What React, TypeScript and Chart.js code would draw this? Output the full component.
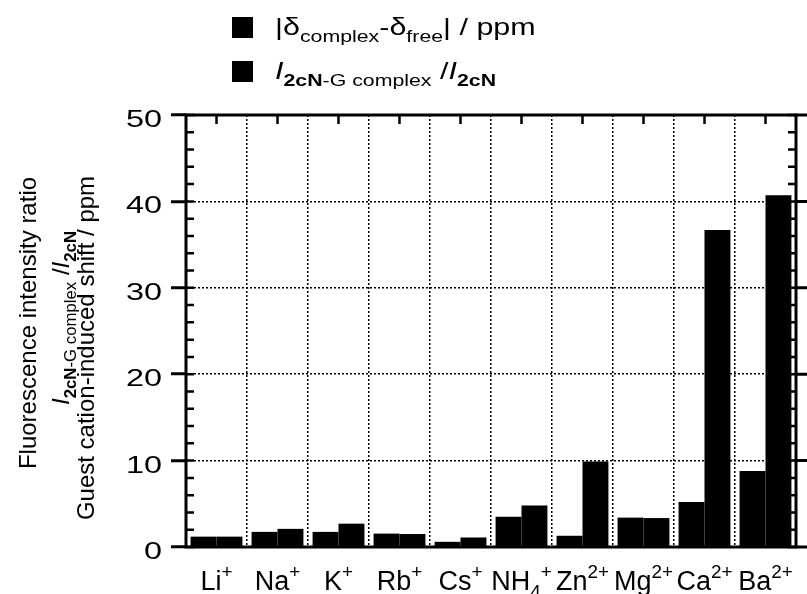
import React, { useEffect, useRef } from 'react';
import { Chart, registerables } from 'chart.js';

Chart.register(...registerables);

// ---------- data ----------
const categories = ['Li⁺', 'Na⁺', 'K⁺', 'Rb⁺', 'Cs⁺', 'NH₄⁺', 'Zn²⁺', 'Mg²⁺', 'Ca²⁺', 'Ba²⁺'];
const shiftValues = [1.2, 1.75, 1.75, 1.55, 0.6, 3.5, 1.3, 3.4, 5.2, 8.8];
const ratioValues = [1.2, 2.1, 2.7, 1.5, 1.1, 4.8, 9.9, 3.35, 36.7, 40.7];
const seriesLabels = ['|δcomplex-δfree| / ppm', 'I2cN-G complex /I2cN'];
const yTickLabels = ['0', '10', '20', '30', '40', '50'];
const yMin = 0;
const yMax = 50;
const yMajorStep = 10;
const yMinorStep = 2;

type Seg = { t: string; s?: 'sub' | 'sup'; f?: 'i' | 'b' };

const legendRich: Seg[][] = [
  [{ t: '|δ' }, { t: 'complex', s: 'sub' }, { t: '-δ' }, { t: 'free', s: 'sub' }, { t: '| / ppm' }],
  [
    { t: 'I', f: 'i' },
    { t: '2cN', s: 'sub', f: 'b' },
    { t: '-G complex', s: 'sub' },
    { t: ' /' },
    { t: 'I', f: 'i' },
    { t: '2cN', s: 'sub', f: 'b' },
  ],
];

const yTitleRich: Seg[][] = [
  [{ t: 'Fluorescence intensity ratio' }],
  [
    { t: 'I', f: 'i' },
    { t: '2cN', s: 'sub', f: 'b' },
    { t: '-G complex', s: 'sub' },
    { t: ' /' },
    { t: 'I', f: 'i' },
    { t: '2cN', s: 'sub', f: 'b' },
  ],
  [{ t: 'Guest cation-induced shift / ppm' }],
];

const FONT = '"Liberation Sans", Arial, Helvetica, sans-serif';
const STRETCH = 1.27;

function parseLabel(label: string): Seg[] {
  const out: Seg[] = [];
  const supMap: Record<string, string> = { '⁺': '+', '²': '2' };
  const subMap: Record<string, string> = { '₄': '4' };
  for (const ch of label) {
    const kind: 'sub' | 'sup' | undefined = supMap[ch] ? 'sup' : subMap[ch] ? 'sub' : undefined;
    const t = supMap[ch] || subMap[ch] || ch;
    const last = out[out.length - 1];
    if (last && last.s === kind) last.t += t;
    else out.push(kind ? { t, s: kind } : { t });
  }
  return out;
}

function fontFor(seg: Seg, size: number) {
  const sz = seg.s ? size * 0.7 : size;
  return `${seg.f === 'i' ? 'italic ' : ''}${seg.f === 'b' ? 'bold ' : ''}${sz}px ${FONT}`;
}

function measureRich(ctx: CanvasRenderingContext2D, segs: Seg[], size: number) {
  let w = 0;
  for (const s of segs) {
    ctx.font = fontFor(s, size);
    w += ctx.measureText(s.t).width;
  }
  return w;
}

function drawRich(
  ctx: CanvasRenderingContext2D,
  segs: Seg[],
  x: number,
  y: number,
  size: number,
  align: 'left' | 'center' | 'right',
  sx = 1,
  supRaise = 0.38
) {
  const w = measureRich(ctx, segs, size) * sx;
  const x0 = align === 'center' ? x - w / 2 : align === 'right' ? x - w : x;
  ctx.save();
  ctx.translate(x0, y);
  ctx.scale(sx, 1);
  ctx.textAlign = 'left';
  ctx.textBaseline = 'alphabetic';
  let cx = 0;
  for (const s of segs) {
    ctx.font = fontFor(s, size);
    const dy = s.s === 'sub' ? size * 0.3 : s.s === 'sup' ? -size * supRaise : 0;
    ctx.fillText(s.t, cx, dy);
    cx += ctx.measureText(s.t).width;
  }
  ctx.restore();
}

const decorPlugin = {
  id: 'decor',
  afterDatasetsDraw(chart: any) {
    const { ctx, chartArea } = chart;
    const { left, right, top, bottom } = chartArea;
    const x = chart.scales.x;
    const y = chart.scales.y;
    ctx.save();
    ctx.strokeStyle = '#000';
    ctx.lineWidth = 3;
    ctx.strokeRect(left, top, right - left, bottom - top);
    ctx.lineWidth = 2.5;
    ctx.beginPath();
    for (let v = yMin; v <= yMax; v += yMinorStep) {
      const py = y.getPixelForValue(v);
      ctx.moveTo(left, py);
      ctx.lineTo(left + 8, py);
      ctx.moveTo(right, py);
      ctx.lineTo(right - 8, py);
    }
    ctx.stroke();
    ctx.lineWidth = 3;
    ctx.beginPath();
    for (let v = yMin; v <= yMax; v += yMajorStep) {
      const py = y.getPixelForValue(v);
      ctx.moveTo(right, py);
      ctx.lineTo(right + 12, py);
    }
    ctx.stroke();
    ctx.lineWidth = 2.5;
    ctx.beginPath();
    categories.forEach((_, i) => {
      const px = x.getPixelForValue(i);
      ctx.moveTo(px, top);
      ctx.lineTo(px, top + 9);
    });
    ctx.stroke();
    ctx.restore();
  },
  afterDraw(chart: any) {
    const { ctx } = chart;
    const x = chart.scales.x;
    const y = chart.scales.y;
    ctx.save();
    ctx.fillStyle = '#000';
    // y tick labels
    yTickLabels.forEach((lab) => {
      const py = y.getPixelForValue(Number(lab));
      drawRich(ctx, [{ t: lab }], 162, py + 12, 24, 'right', 1.35);
    });
    // x labels
    categories.forEach((c, i) => {
      drawRich(ctx, parseLabel(c), x.getPixelForValue(i), 590, 27, 'center', 1, 0.45);
    });
    // legend
    const legendY = [17, 61];
    legendRich.forEach((segs, i) => {
      ctx.fillStyle = '#000';
      ctx.fillRect(232, legendY[i], 21, 21);
      drawRich(ctx, segs, 275, legendY[i] + 18, 24, 'left', STRETCH);
    });
    // y title
    const baseX = [36, 69, 94];
    const centerY = [323, 318, 348];
    yTitleRich.forEach((segs, i) => {
      ctx.save();
      ctx.translate(baseX[i], centerY[i]);
      ctx.rotate(-Math.PI / 2);
      drawRich(ctx, segs, 0, 0, 24, 'center');
      ctx.restore();
    });
    ctx.restore();
  },
};

export default function App() {
  const ref = useRef<HTMLCanvasElement | null>(null);
  useEffect(() => {
    if (!ref.current) return;
    const chart = new Chart(ref.current, {
      type: 'bar',
      data: {
        labels: categories,
        datasets: [
          {
            label: seriesLabels[0],
            data: shiftValues,
            backgroundColor: '#000',
            borderWidth: 0,
            categoryPercentage: 0.85,
            barPercentage: 1.0,
          },
          {
            label: seriesLabels[1],
            data: ratioValues,
            backgroundColor: '#000',
            borderWidth: 0,
            categoryPercentage: 0.85,
            barPercentage: 1.0,
          },
        ],
      },
      options: {
        responsive: false,
        animation: false,
        layout: { padding: { left: 0, right: 11, top: 115, bottom: 47 } },
        plugins: { legend: { display: false }, tooltip: { enabled: false } },
        scales: {
          x: {
            offset: true,
            grid: { offset: true, color: '#000', lineWidth: 1.5, drawTicks: false },
            border: { display: false, dash: [2, 2] },
            ticks: { display: false },
            afterFit: (s: any) => {
              s.height = 0;
            },
          },
          y: {
            min: yMin,
            max: yMax,
            ticks: { stepSize: yMajorStep, display: false },
            grid: {
              color: '#000',
              lineWidth: 1.5,
              drawTicks: true,
              tickLength: 15,
              tickWidth: 3,
              tickColor: '#000',
            },
            border: { display: false, dash: [2, 2] },
            afterFit: (s: any) => {
              s.width = 186;
            },
          },
        },
      },
      plugins: [decorPlugin],
    });
    return () => chart.destroy();
  }, []);
  return (
    <div style={{ position: 'absolute', left: 0, top: 0, width: 807, height: 594, background: '#fff' }}>
      <canvas ref={ref} width={807} height={594} style={{ display: 'block' }} />
    </div>
  );
}
